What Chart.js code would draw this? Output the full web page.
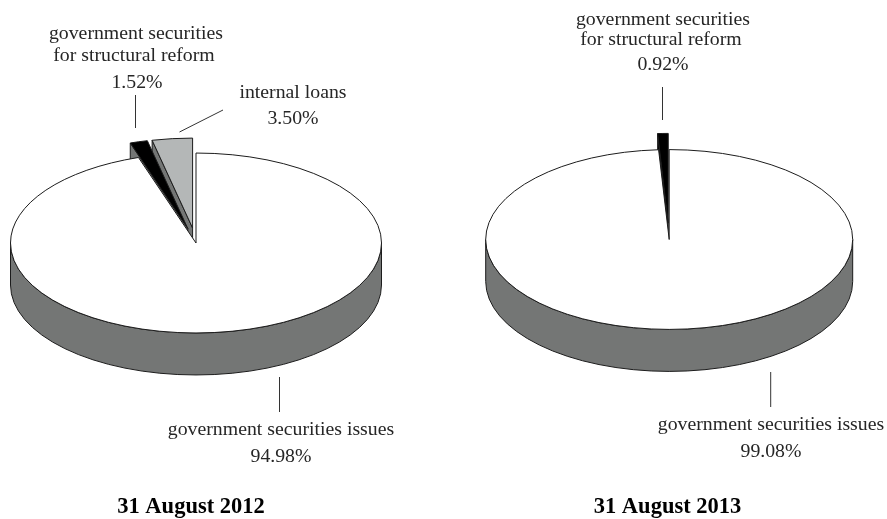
<!DOCTYPE html>
<html>
<head>
<meta charset="utf-8">
<script src="https://cdn.jsdelivr.net/npm/chart.js@4"></script>
<style>
    html, body { margin: 0; padding: 0; background: #fff; }
    .pie { position: absolute; top: 0; width: 444px; height: 519px; }
</style>
</head>
<body>
<div class="pie" style="left:0"><canvas id="pie2012"></canvas></div>
<div class="pie" style="left:443px"><canvas id="pie2013"></canvas></div>
<script>
// values, clockwise from 12 o'clock
const categories2012 = ['government securities issues', 'government securities for structural reform', 'internal loans'];
const values2012 = [94.98, 1.52, 3.50];
const categories2013 = ['government securities issues', 'government securities for structural reform'];
const values2013 = [99.08, 0.92];

const title2012 = '31 August 2012';
const title2013 = '31 August 2013';

const GREY_SIDE = '#747675';
const INK = '#1c1c1c';
const TEXT = '#262626';

// the library draws round arcs, so squash them and add the wall here
const pie3d = {
    id: 'pie3d',
    beforeDatasetsDraw(chart, args, opts) {
        const ctx = chart.ctx;
        const arcs = chart.getDatasetMeta(0).data;
        const tilt = opts.tilt;
        const depth = opts.depth;

        const geometry = (arc, i) => {
            const p = arc.getProps(['x', 'y', 'startAngle', 'endAngle', 'outerRadius']);
            const mid = (p.startAngle + p.endAngle) / 2;
            return { ...p, tx: Math.cos(mid) * opts.explode[i], ty: Math.sin(mid) * opts.explode[i] };
        };

        const drawTop = (arc, i) => {
            const g = geometry(arc, i);
            ctx.save();
            ctx.translate(g.x, g.y);
            ctx.scale(1, tilt);
            ctx.translate(-g.x + g.tx, -g.y + g.ty);
            arc.draw(ctx);
            ctx.beginPath();
            ctx.moveTo(g.x, g.y);
            ctx.arc(g.x, g.y, g.outerRadius, g.startAngle, g.endAngle);
            ctx.closePath();
            ctx.restore();
            ctx.lineWidth = 1;
            ctx.strokeStyle = INK;
            ctx.stroke();
        };

        // cut face of an exploded slice, left edge only, the rest is hidden
        const drawFace = (arc, i) => {
            const g = geometry(arc, i);
            const px = g.x + g.tx;
            const py = g.y + g.ty * tilt;
            const qx = px + Math.cos(g.startAngle) * g.outerRadius;
            const qy = py + Math.sin(g.startAngle) * g.outerRadius * tilt;
            ctx.beginPath();
            ctx.moveTo(px, py);
            ctx.lineTo(qx, qy);
            ctx.lineTo(qx, qy + depth);
            ctx.lineTo(px, py + depth);
            ctx.closePath();
            ctx.fillStyle = opts.faceColors[i];
            ctx.fill();
            ctx.lineWidth = 1;
            ctx.strokeStyle = INK;
            ctx.stroke();
        };

        const drawWall = (arc) => {
            const g = geometry(arc, 0);
            const rx = g.outerRadius;
            const ry = rx * tilt;
            ctx.beginPath();
            ctx.ellipse(g.x, g.y, rx, ry, 0, 0, Math.PI);
            ctx.ellipse(g.x, g.y + depth, rx, ry, 0, Math.PI, 0, true);
            ctx.closePath();
            ctx.fillStyle = GREY_SIDE;
            ctx.fill();
            ctx.lineWidth = 1;
            ctx.strokeStyle = INK;
            ctx.stroke();
        };

        for (let i = arcs.length - 1; i > 0; i--) drawFace(arcs[i], i);
        drawWall(arcs[0]);
        drawTop(arcs[0], 0);
        for (let i = arcs.length - 1; i > 0; i--) drawTop(arcs[i], i);
        return false;
    },
    afterDraw(chart, args, opts) {
        const ctx = chart.ctx;
        ctx.save();
        ctx.strokeStyle = '#333';
        ctx.lineWidth = 1;
        opts.leaders.forEach(l => {
            ctx.beginPath();
            ctx.moveTo(l[0], l[1]);
            ctx.lineTo(l[2], l[3]);
            ctx.stroke();
        });
        ctx.textAlign = 'center';
        ctx.textBaseline = 'alphabetic';
        ctx.fillStyle = TEXT;
        ctx.font = '19.8px "Liberation Serif"';
        opts.labels.forEach(l => ctx.fillText(l[0], l[1], l[2]));
        ctx.fillStyle = '#000';
        ctx.font = 'bold 22.5px "Liberation Serif"';
        ctx.fillText(opts.title[0], opts.title[1], opts.title[2]);
        ctx.restore();
    }
};

function makePie(id, labels, values, colors, radius, padding, extra) {
    return new Chart(document.getElementById(id), {
        type: 'pie',
        data: {
            labels: labels,
            datasets: [{ data: values, backgroundColor: colors, borderWidth: 0 }]
        },
        options: {
            responsive: true,
            maintainAspectRatio: false,
            animation: false,
            radius: radius,
            layout: { padding: padding },
            events: [],
            plugins: {
                legend: { display: false },
                tooltip: { enabled: false },
                pie3d: extra
            }
        },
        plugins: [pie3d]
    });
}

makePie('pie2012', categories2012, values2012, ['#ffffff', '#000000', '#b4b7b7'], 185.5,
    { left: 0, right: 52, top: 0, bottom: 33 },
    {
        tilt: 0.485,
        depth: 42,
        explode: [0, 31, 31],
        faceColors: [GREY_SIDE, GREY_SIDE, GREY_SIDE],
        leaders: [[135.5, 95, 135.5, 128], [223, 110, 179.5, 132], [279.5, 377, 279.5, 412]],
        labels: [
            ['government securities', 136, 39],
            ['for structural reform', 134, 61],
            [values2012[1].toFixed(2) + '%', 137, 88],
            ['internal loans', 293, 98],
            [values2012[2].toFixed(2) + '%', 293, 124],
            ['government securities issues', 281, 435],
            [values2012[0].toFixed(2) + '%', 281, 462]
        ],
        title: [title2012, 191, 513]
    });

makePie('pie2013', categories2013, values2013, ['#ffffff', '#000000'], 183.5,
    { left: 8.4, right: 0, top: 0, bottom: 40 },
    {
        tilt: 0.49,
        depth: 42,
        explode: [0, 33],
        faceColors: [GREY_SIDE, '#000000'],
        leaders: [[219.5, 87, 219.5, 120], [327.7, 372, 327.7, 407]],
        labels: [
            ['government securities', 220, 25],
            ['for structural reform', 218, 45],
            [values2013[1].toFixed(2) + '%', 220, 70],
            ['government securities issues', 328, 430],
            [values2013[0].toFixed(2) + '%', 328, 457]
        ],
        title: [title2013, 224.5, 513]
    });
</script>
</body>
</html>
